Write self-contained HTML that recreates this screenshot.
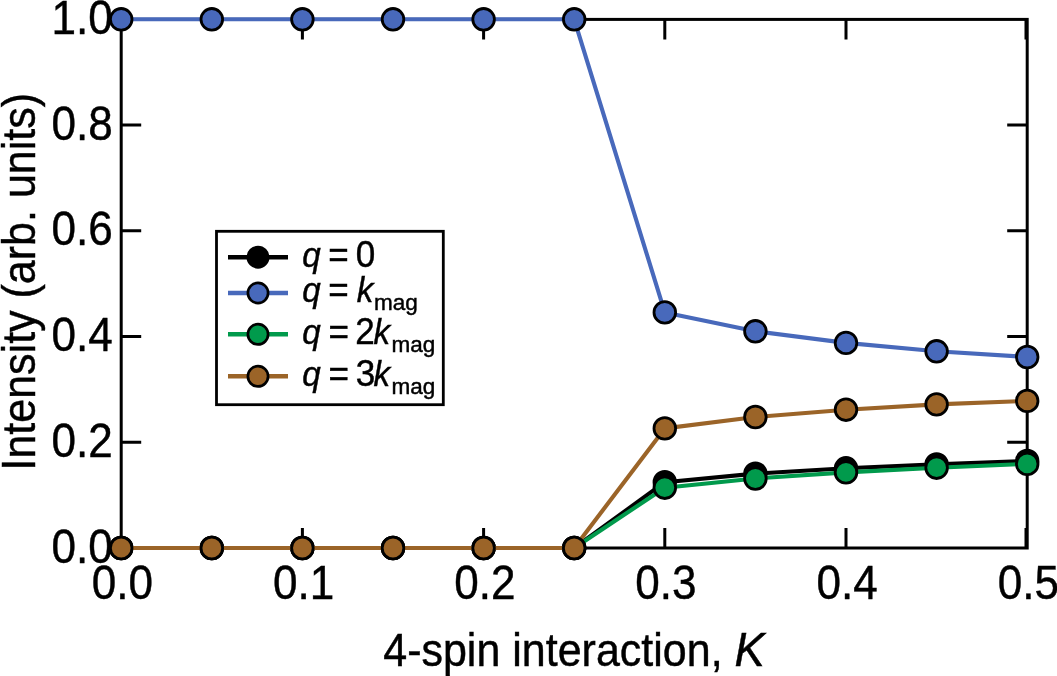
<!DOCTYPE html>
<html><head><meta charset="utf-8"><style>
html,body{margin:0;padding:0;background:#fff;}
svg{display:block;}
text{font-family:"Liberation Sans",Arial,sans-serif;fill:#000;stroke:#000;stroke-width:0.45px;}
.it{font-style:italic;}
.lgq{font-size:35.5px;font-style:italic;}
.lgb{font-size:37.5px;}
.tl{font-size:48.6px;}
.al{font-size:46px;}
.lg{font-size:35.5px;}
.sub{font-size:22.5px;}
</style></head><body>
<svg width="1057" height="676" viewBox="0 0 1057 676">
<rect x="121.2" y="19.4" width="906.0" height="528.6" fill="none" stroke="#000" stroke-width="3.0"/>
<path d="M302.4,548.0V528.0 M302.4,19.4V39.4 M483.6,548.0V528.0 M483.6,19.4V39.4 M664.8,548.0V528.0 M664.8,19.4V39.4 M846.0,548.0V528.0 M846.0,19.4V39.4 M121.2,442.3H141.2 M1027.2,442.3H1007.2 M121.2,336.6H141.2 M1027.2,336.6H1007.2 M121.2,230.8H141.2 M1027.2,230.8H1007.2 M121.2,125.1H141.2 M1027.2,125.1H1007.2 M1026.0,19.4V39.4 M1026.0,548.0V528.0" stroke="#000" stroke-width="3.0" fill="none"/>
<text transform="translate(112.9,34.0) scale(0.9075,1)" text-anchor="end" class="tl">1.0</text>
<text transform="translate(112.9,139.7) scale(0.9075,1)" text-anchor="end" class="tl">0.8</text>
<text transform="translate(112.9,245.4) scale(0.9075,1)" text-anchor="end" class="tl">0.6</text>
<text transform="translate(112.9,351.2) scale(0.9075,1)" text-anchor="end" class="tl">0.4</text>
<text transform="translate(112.9,456.9) scale(0.9075,1)" text-anchor="end" class="tl">0.2</text>
<text transform="translate(112.9,562.6) scale(0.9075,1)" text-anchor="end" class="tl">0.0</text>
<text transform="translate(122.4,599) scale(0.9075,1)" text-anchor="middle" class="tl">0.0</text>
<text transform="translate(303.6,599) scale(0.9075,1)" text-anchor="middle" class="tl">0.1</text>
<text transform="translate(484.8,599) scale(0.9075,1)" text-anchor="middle" class="tl">0.2</text>
<text transform="translate(666.0,599) scale(0.9075,1)" text-anchor="middle" class="tl">0.3</text>
<text transform="translate(847.2,599) scale(0.9075,1)" text-anchor="middle" class="tl">0.4</text>
<text transform="translate(1028.4,599) scale(0.9075,1)" text-anchor="middle" class="tl">0.5</text>
<text transform="translate(574,666) scale(0.935,1)" text-anchor="middle" class="al">4-spin interaction, <tspan font-style="italic" font-size="48.5">K</tspan></text>
<text transform="translate(34.6,282.0) rotate(-90) scale(0.935,1)" text-anchor="middle" class="al"><tspan font-size="48">I</tspan>ntensity (arb. units)</text>
<polyline points="121.2,548.0 211.8,548.0 302.4,548.0 393.0,548.0 483.6,548.0 574.2,548.0 664.8,482.2 755.4,473.6 846.0,468.3 936.6,464.4 1027.2,460.9" fill="none" stroke="#000000" stroke-width="4.1" stroke-linejoin="round"/>
<circle cx="121.2" cy="548.0" r="10.8" fill="#000000" stroke="#000" stroke-width="2.8"/>
<circle cx="211.8" cy="548.0" r="10.8" fill="#000000" stroke="#000" stroke-width="2.8"/>
<circle cx="302.4" cy="548.0" r="10.8" fill="#000000" stroke="#000" stroke-width="2.8"/>
<circle cx="393.0" cy="548.0" r="10.8" fill="#000000" stroke="#000" stroke-width="2.8"/>
<circle cx="483.6" cy="548.0" r="10.8" fill="#000000" stroke="#000" stroke-width="2.8"/>
<circle cx="574.2" cy="548.0" r="10.8" fill="#000000" stroke="#000" stroke-width="2.8"/>
<circle cx="664.8" cy="482.2" r="10.8" fill="#000000" stroke="#000" stroke-width="2.8"/>
<circle cx="755.4" cy="473.6" r="10.8" fill="#000000" stroke="#000" stroke-width="2.8"/>
<circle cx="846.0" cy="468.3" r="10.8" fill="#000000" stroke="#000" stroke-width="2.8"/>
<circle cx="936.6" cy="464.4" r="10.8" fill="#000000" stroke="#000" stroke-width="2.8"/>
<circle cx="1027.2" cy="460.9" r="10.8" fill="#000000" stroke="#000" stroke-width="2.8"/>

<polyline points="121.2,19.3 211.8,19.3 302.4,19.3 393.0,19.3 483.6,19.3 574.2,19.3 664.8,312.4 755.4,331.3 846.0,342.9 936.6,351.3 1027.2,357.0" fill="none" stroke="#4869bb" stroke-width="4.1" stroke-linejoin="round"/>
<circle cx="121.2" cy="19.3" r="10.8" fill="#4869bb" stroke="#000" stroke-width="2.8"/>
<circle cx="211.8" cy="19.3" r="10.8" fill="#4869bb" stroke="#000" stroke-width="2.8"/>
<circle cx="302.4" cy="19.3" r="10.8" fill="#4869bb" stroke="#000" stroke-width="2.8"/>
<circle cx="393.0" cy="19.3" r="10.8" fill="#4869bb" stroke="#000" stroke-width="2.8"/>
<circle cx="483.6" cy="19.3" r="10.8" fill="#4869bb" stroke="#000" stroke-width="2.8"/>
<circle cx="574.2" cy="19.3" r="10.8" fill="#4869bb" stroke="#000" stroke-width="2.8"/>
<circle cx="664.8" cy="312.4" r="10.8" fill="#4869bb" stroke="#000" stroke-width="2.8"/>
<circle cx="755.4" cy="331.3" r="10.8" fill="#4869bb" stroke="#000" stroke-width="2.8"/>
<circle cx="846.0" cy="342.9" r="10.8" fill="#4869bb" stroke="#000" stroke-width="2.8"/>
<circle cx="936.6" cy="351.3" r="10.8" fill="#4869bb" stroke="#000" stroke-width="2.8"/>
<circle cx="1027.2" cy="357.0" r="10.8" fill="#4869bb" stroke="#000" stroke-width="2.8"/>

<polyline points="121.2,548.0 211.8,548.0 302.4,548.0 393.0,548.0 483.6,548.0 574.2,548.0 664.8,487.7 755.4,478.5 846.0,472.4 936.6,467.7 1027.2,463.9" fill="none" stroke="#019a4c" stroke-width="4.1" stroke-linejoin="round"/>
<circle cx="121.2" cy="548.0" r="10.8" fill="#019a4c" stroke="#000" stroke-width="2.8"/>
<circle cx="211.8" cy="548.0" r="10.8" fill="#019a4c" stroke="#000" stroke-width="2.8"/>
<circle cx="302.4" cy="548.0" r="10.8" fill="#019a4c" stroke="#000" stroke-width="2.8"/>
<circle cx="393.0" cy="548.0" r="10.8" fill="#019a4c" stroke="#000" stroke-width="2.8"/>
<circle cx="483.6" cy="548.0" r="10.8" fill="#019a4c" stroke="#000" stroke-width="2.8"/>
<circle cx="574.2" cy="548.0" r="10.8" fill="#019a4c" stroke="#000" stroke-width="2.8"/>
<circle cx="664.8" cy="487.7" r="10.8" fill="#019a4c" stroke="#000" stroke-width="2.8"/>
<circle cx="755.4" cy="478.5" r="10.8" fill="#019a4c" stroke="#000" stroke-width="2.8"/>
<circle cx="846.0" cy="472.4" r="10.8" fill="#019a4c" stroke="#000" stroke-width="2.8"/>
<circle cx="936.6" cy="467.7" r="10.8" fill="#019a4c" stroke="#000" stroke-width="2.8"/>
<circle cx="1027.2" cy="463.9" r="10.8" fill="#019a4c" stroke="#000" stroke-width="2.8"/>

<polyline points="121.2,548.0 211.8,548.0 302.4,548.0 393.0,548.0 483.6,548.0 574.2,548.0 664.8,428.4 755.4,417.0 846.0,409.7 936.6,404.4 1027.2,400.9" fill="none" stroke="#9b6428" stroke-width="4.1" stroke-linejoin="round"/>
<circle cx="121.2" cy="548.0" r="10.8" fill="#9b6428" stroke="#000" stroke-width="2.8"/>
<circle cx="211.8" cy="548.0" r="10.8" fill="#9b6428" stroke="#000" stroke-width="2.8"/>
<circle cx="302.4" cy="548.0" r="10.8" fill="#9b6428" stroke="#000" stroke-width="2.8"/>
<circle cx="393.0" cy="548.0" r="10.8" fill="#9b6428" stroke="#000" stroke-width="2.8"/>
<circle cx="483.6" cy="548.0" r="10.8" fill="#9b6428" stroke="#000" stroke-width="2.8"/>
<circle cx="574.2" cy="548.0" r="10.8" fill="#9b6428" stroke="#000" stroke-width="2.8"/>
<circle cx="664.8" cy="428.4" r="10.8" fill="#9b6428" stroke="#000" stroke-width="2.8"/>
<circle cx="755.4" cy="417.0" r="10.8" fill="#9b6428" stroke="#000" stroke-width="2.8"/>
<circle cx="846.0" cy="409.7" r="10.8" fill="#9b6428" stroke="#000" stroke-width="2.8"/>
<circle cx="936.6" cy="404.4" r="10.8" fill="#9b6428" stroke="#000" stroke-width="2.8"/>
<circle cx="1027.2" cy="400.9" r="10.8" fill="#9b6428" stroke="#000" stroke-width="2.8"/>

<rect x="216.5" y="231.3" width="226.8" height="173.4" fill="#fff" stroke="#000" stroke-width="2.8"/>
<line x1="228" y1="257.2" x2="288" y2="257.2" stroke="#000000" stroke-width="4.4"/>
<circle cx="258" cy="257.2" r="10.1" fill="#000000" stroke="#000" stroke-width="2.7"/>
<text transform="translate(302.18,267.00) scale(0.935,1)" class="lgq">q</text>
<text transform="translate(328.19,267.00) scale(0.935,1)" class="lgb">=</text>
<text transform="translate(355.83,267.00) scale(0.935,1)" class="lgb">0</text>
<line x1="228" y1="293.0" x2="288" y2="293.0" stroke="#4869bb" stroke-width="4.4"/>
<circle cx="258" cy="293.0" r="10.1" fill="#4869bb" stroke="#000" stroke-width="2.7"/>
<text transform="translate(302.28,302.00) scale(0.935,1)" class="lgq">q</text>
<text transform="translate(328.19,302.00) scale(0.935,1)" class="lgb">=</text>
<text transform="translate(356.85,302.00) scale(0.935,1)" class="lgq">k</text>
<text transform="translate(374.11,310.00) scale(1.0,1)" class="sub">mag</text>
<line x1="228" y1="334.3" x2="288" y2="334.3" stroke="#019a4c" stroke-width="4.4"/>
<circle cx="258" cy="334.3" r="10.1" fill="#019a4c" stroke="#000" stroke-width="2.7"/>
<text transform="translate(302.28,344.30) scale(0.935,1)" class="lgq">q</text>
<text transform="translate(328.39,344.30) scale(0.935,1)" class="lgb">=</text>
<text transform="translate(355.24,344.30) scale(0.935,1)" class="lgb">2</text>
<text transform="translate(373.45,344.30) scale(0.935,1)" class="lgq">k</text>
<text transform="translate(391.51,352.30) scale(1.0,1)" class="sub">mag</text>
<line x1="228" y1="376.3" x2="288" y2="376.3" stroke="#9b6428" stroke-width="4.4"/>
<circle cx="258" cy="376.3" r="10.1" fill="#9b6428" stroke="#000" stroke-width="2.7"/>
<text transform="translate(302.28,386.00) scale(0.935,1)" class="lgq">q</text>
<text transform="translate(328.39,386.00) scale(0.935,1)" class="lgb">=</text>
<text transform="translate(355.66,386.00) scale(0.935,1)" class="lgb">3</text>
<text transform="translate(373.45,386.00) scale(0.935,1)" class="lgq">k</text>
<text transform="translate(391.51,394.00) scale(1.0,1)" class="sub">mag</text>
</svg>
</body></html>
